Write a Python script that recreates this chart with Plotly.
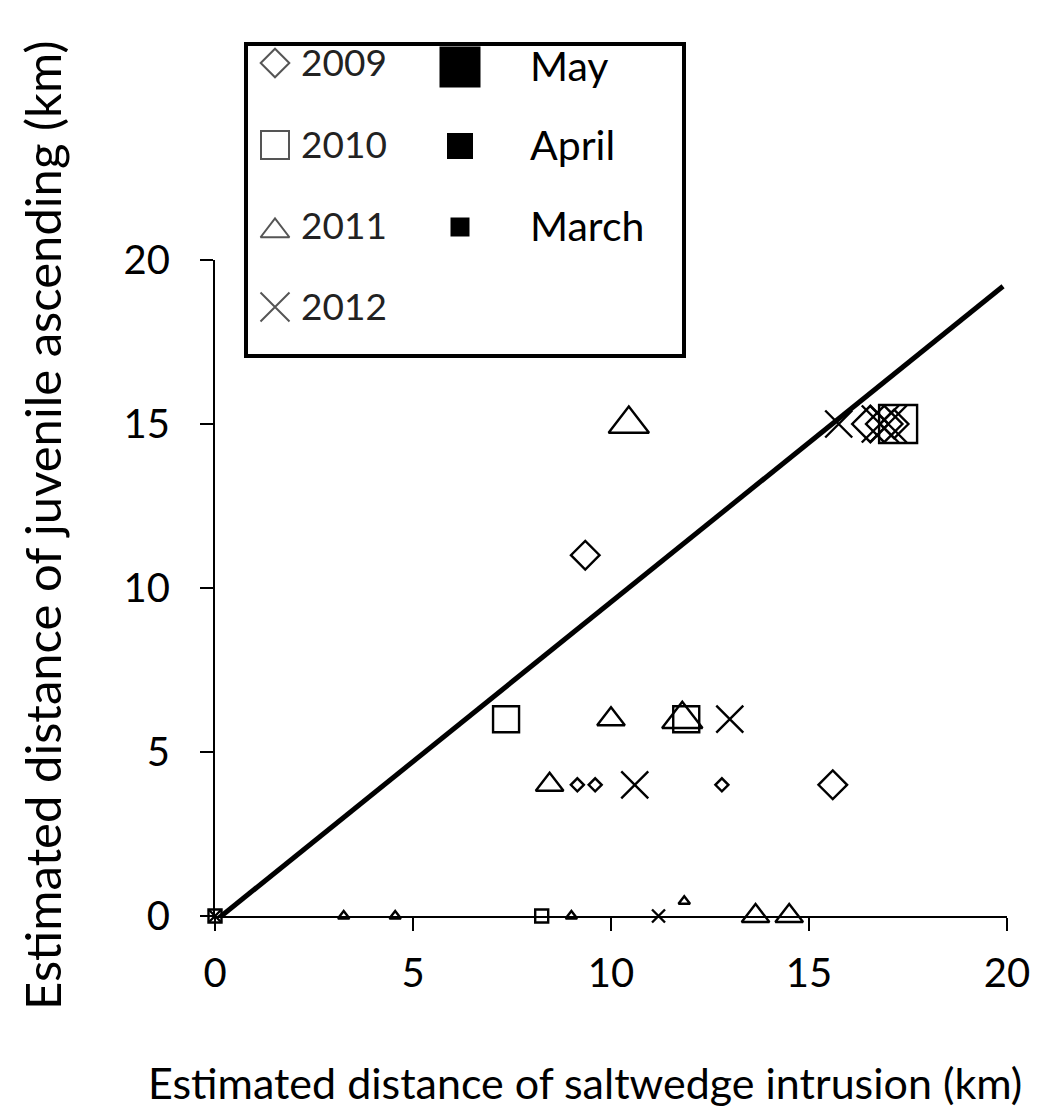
import plotly.graph_objects as go

# ---------------- data ----------------
# 2009 (diamonds)
y2009_x = [9.35, 15.6, 9.15, 9.6, 12.8, 16.55, 16.9, 17.15]
y2009_y = [11.0, 4.0, 4.0, 4.0, 4.0, 15.0, 15.0, 15.0]
y2009_m = ["April", "April", "March", "March", "March", "May", "May", "April"]
# 2010 (squares)
y2010_x = [7.35, 11.9, 17.25, 8.25, 0.0]
y2010_y = [6.0, 6.0, 15.0, 0.0, 0.0]
y2010_m = ["April", "April", "May", "March", "March"]
# 2011 (triangles)
y2011_x = [10.45, 11.8, 10.0, 8.45, 13.65, 14.5, 3.25, 4.55, 9.0, 11.85]
y2011_y = [15.0, 6.0, 6.0, 4.0, 0.0, 0.0, 0.0, 0.0, 0.0, 0.45]
y2011_m = ["May", "May", "April", "April", "April", "April", "March", "March", "March", "March"]
# 2012 (crosses)
y2012_x = [15.75, 13.0, 10.6, 11.2, 16.8, 17.0, 0.0]
y2012_y = [15.0, 6.0, 4.0, 0.0, 15.0, 15.0, 0.0]
y2012_m = ["April", "April", "April", "March", "May", "May", "March"]
# fitted line
line_x = [-0.2, 19.9]
line_y = [-0.35, 19.2]

years = ["2009", "2010", "2011", "2012"]
months = ["May", "April", "March"]
x_ticks = [0, 5, 10, 15, 20]
y_ticks = [0, 5, 10, 15, 20]
x_title = "Estimated distance of saltwedge intrusion (km)"
y_title = "Estimated distance of juvenile ascending (km)"

# ---------------- styling ----------------
W, H = 1038, 1117
FONT = "Lato"
symbols = {"2009": "diamond-open", "2010": "square-open",
           "2011": "triangle-up-open", "2012": "x-thin-open"}
sizes = {
    "2009": {"May": 28, "April": 22, "March": 10},
    "2010": {"May": 38, "April": 26, "March": 13},
    "2011": {"May": 35, "April": 24, "March": 10},
    "2012": {"May": 37, "April": 27, "March": 13},
}
series = {
    "2009": (y2009_x, y2009_y, y2009_m),
    "2010": (y2010_x, y2010_y, y2010_m),
    "2011": (y2011_x, y2011_y, y2011_m),
    "2012": (y2012_x, y2012_y, y2012_m),
}

def px(x):
    return x / W

def py(y):
    return 1 - y / H

fig = go.Figure()

fig.add_trace(go.Scatter(x=line_x, y=line_y, mode="lines",
                         line=dict(color="black", width=5), showlegend=False,
                         hoverinfo="skip"))

for yr in years:
    xs, ys, ms = series[yr]
    fig.add_trace(go.Scatter(
        x=xs, y=ys, mode="markers", name=yr, showlegend=False, cliponaxis=False,
        marker=dict(symbol=symbols[yr], size=[sizes[yr][m] for m in ms], opacity=1,
                    color="black", line=dict(color="black", width=2.4))))

# ---------------- legend (drawn in its own pixel-space axes) ----------------
LB = dict(x0=246, x1=684, y0=44, y1=356)
leg_rows_y = [63, 145, 226, 307]
leg_sym_size = {"2009": 22, "2010": 28, "2011": 25, "2012": 29}
for yr, ry in zip(years, leg_rows_y):
    fig.add_trace(go.Scatter(
        x=[275], y=[ry + (5 if yr == "2011" else 0)], mode="markers", xaxis="x2", yaxis="y2",
        showlegend=False, hoverinfo="skip", cliponaxis=False,
        marker=dict(symbol=symbols[yr], size=leg_sym_size[yr], color="#555", opacity=1,
                    line=dict(color="#555", width=2))))
    fig.add_annotation(x=299, y=ry - 2, xref="x2", yref="y2", text=yr, showarrow=False,
                       xanchor="left", yanchor="middle",
                       font=dict(family=FONT, size=37, color="#222"))

month_rows_y = [67, 146, 227]
month_sq = [41, 26, 19]
for m, ry, s in zip(months, month_rows_y, month_sq):
    fig.add_trace(go.Scatter(
        x=[460], y=[ry], mode="markers", xaxis="x2", yaxis="y2",
        showlegend=False, hoverinfo="skip", cliponaxis=False,
        marker=dict(symbol="square", size=s, color="black", opacity=1,
                    line=dict(color="black", width=0))))
    fig.add_annotation(x=528, y=ry - 2, xref="x2", yref="y2", text=m, showarrow=False,
                       xanchor="left", yanchor="middle",
                       font=dict(family=FONT, size=41, color="black"))

fig.add_shape(type="rect", xref="paper", yref="paper",
              x0=px(LB["x0"]), x1=px(LB["x1"]), y0=py(LB["y0"]), y1=py(LB["y1"]),
              line=dict(color="black", width=4), layer="above")

# ---------------- axis titles ----------------
fig.add_annotation(x=px(585), y=py(1082), xref="paper", yref="paper", text=x_title,
                   showarrow=False, xanchor="center", yanchor="middle",
                   font=dict(family=FONT, size=43, color="black"))
fig.add_annotation(x=px(42), y=py(525), xref="paper", yref="paper", text=y_title,
                   showarrow=False, xanchor="center", yanchor="middle", textangle=-90,
                   font=dict(family=FONT, size=49, color="black"))

axis_common = dict(showgrid=False, zeroline=False, showline=True, linecolor="black",
                   linewidth=2, ticks="outside", ticklen=13, tickwidth=2, automargin=False,
                   tickcolor="black", tickfont=dict(family=FONT, size=40, color="black"))

fig.update_layout(
    template="none",
    width=W, height=H, autosize=False,
    margin=dict(l=0, r=0, t=0, b=0, pad=0),
    paper_bgcolor="white", plot_bgcolor="white",
    showlegend=False,
    xaxis=dict(domain=[px(215), px(1007)], range=[0, 20], tickvals=x_ticks,
               anchor="y", ticklabelstandoff=8, **axis_common),
    yaxis=dict(domain=[py(916), py(260)], range=[0, 20], tickvals=y_ticks,
               anchor="x", ticklabelstandoff=22, **axis_common),
    xaxis2=dict(domain=[px(LB["x0"]), px(LB["x1"])], range=[LB["x0"], LB["x1"]],
                visible=False, anchor="y2", automargin=False),
    yaxis2=dict(domain=[py(LB["y1"]), py(LB["y0"])], range=[LB["y1"], LB["y0"]],
                visible=False, anchor="x2", automargin=False),
)

fig.write_html("out.html")
